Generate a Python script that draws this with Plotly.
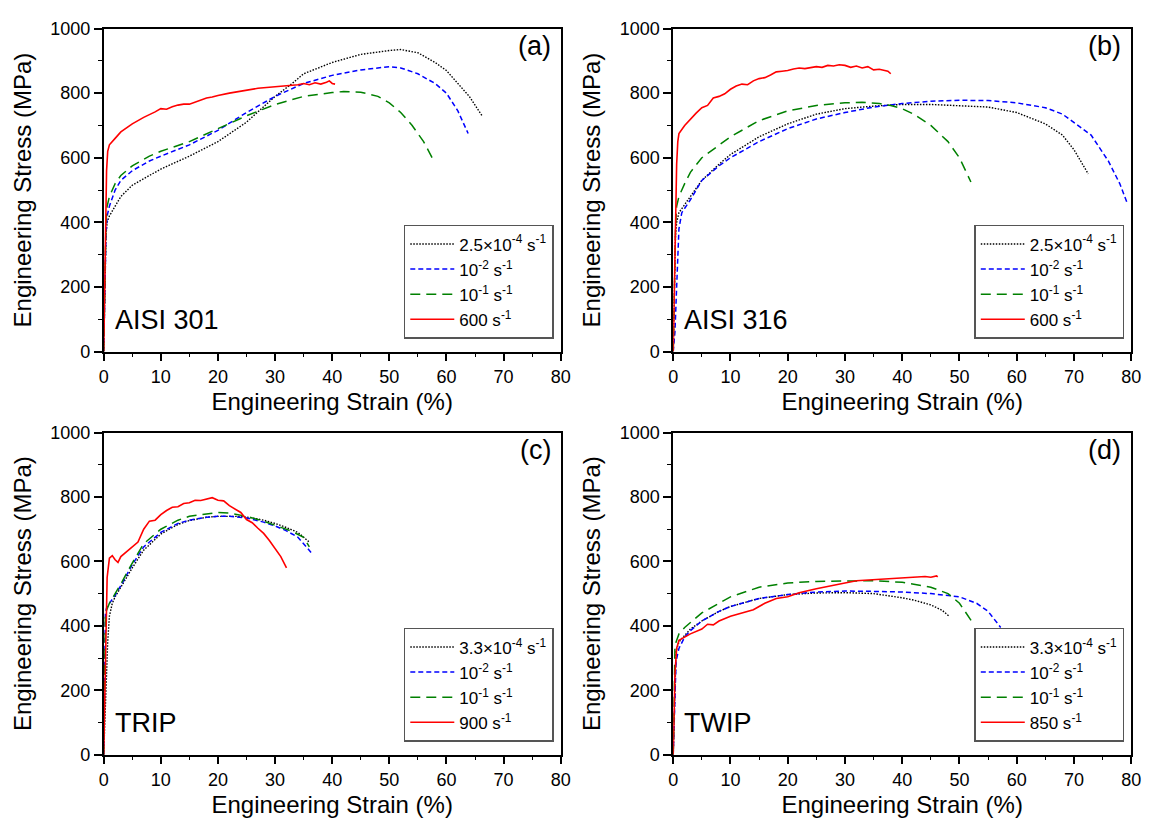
import plotly.graph_objects as go

# ---------------- DATA ----------------
# (a) AISI 301
a_slow_x = [0, 0.2, 0.4, 0.6, 1, 2, 3, 5, 8, 10, 15, 20, 25, 30, 33, 35, 40, 45, 50, 52, 55, 58, 60, 62, 64, 66.3]
a_slow_y = [0, 200, 360, 400, 420, 450, 480, 515, 545, 565, 605, 650, 710, 790, 830, 860, 895, 920, 932, 935, 925, 895, 870, 830, 790, 728]
a_mid_x = [0, 0.2, 0.4, 0.6, 1, 2, 3, 5, 8, 10, 15, 20, 25, 30, 35, 40, 45, 50, 52, 55, 58, 60, 62, 63.8]
a_mid_y = [0, 200, 360, 420, 450, 500, 530, 560, 590, 605, 640, 685, 740, 790, 830, 855, 872, 882, 878, 860, 830, 800, 745, 675]
a_fast_x = [0, 0.2, 0.4, 0.6, 1, 2, 3, 5, 8, 10, 15, 20, 25, 30, 35, 40, 42, 45, 48, 50, 52, 54, 56, 57.8]
a_fast_y = [0, 220, 400, 450, 480, 520, 545, 575, 605, 620, 650, 690, 730, 765, 790, 802, 805, 803, 790, 770, 740, 700, 650, 590]
a_dyn_x = [0, 0.15, 0.3, 0.5, 0.7, 1, 2, 3, 5, 7, 9, 10, 11, 12, 13, 14, 15, 16, 17, 18, 19, 20, 22, 25, 27, 30, 32, 34, 35, 36, 37, 38, 39, 39.5, 40, 40.5]
a_dyn_y = [0, 150, 350, 560, 620, 640, 660, 680, 705, 725, 742, 752, 750, 758, 763, 766, 766, 772, 778, 785, 788, 793, 800, 808, 815, 820, 822, 826, 830, 826, 832, 828, 834, 838, 830, 828]

# (b) AISI 316
b_slow_x = [0, 0.2, 0.4, 0.6, 1, 2, 3, 5, 8, 10, 15, 20, 25, 30, 35, 40, 45, 50, 55, 60, 65, 68, 70, 72.5]
b_slow_y = [0, 180, 360, 400, 430, 455, 480, 530, 580, 610, 665, 705, 735, 752, 760, 765, 765, 762, 757, 740, 705, 670, 625, 550]
b_mid_x = [0, 0.3, 0.6, 1, 1.5, 3, 5, 8, 10, 15, 20, 25, 30, 35, 40, 45, 50, 55, 60, 65, 68, 70, 73, 76, 78, 79.3]
b_mid_y = [0, 60, 200, 380, 430, 470, 530, 575, 600, 650, 690, 720, 740, 757, 768, 775, 778, 777, 770, 755, 735, 710, 670, 590, 520, 460]
b_fast_x = [0, 0.2, 0.4, 0.6, 1, 2, 3, 5, 8, 10, 15, 20, 25, 30, 33, 36, 38, 40, 42, 45, 48, 50, 52]
b_fast_y = [0, 200, 380, 450, 480, 520, 555, 600, 640, 665, 715, 745, 762, 770, 772, 768, 762, 752, 735, 700, 650, 600, 525]
b_dyn_x = [0, 0.2, 0.4, 0.6, 0.8, 1, 2, 3, 4, 5, 6, 7, 8, 9, 10, 11, 12, 13, 14, 15, 16, 17, 18, 19, 20, 21, 22, 23, 24, 25, 26, 27, 28, 29, 30, 31, 32, 33, 34, 35, 36, 37, 37.5, 38]
b_dyn_y = [0, 200, 420, 580, 650, 675, 700, 720, 738, 755, 762, 785, 790, 798, 812, 822, 828, 826, 838, 845, 848, 856, 866, 868, 870, 875, 878, 876, 880, 882, 880, 886, 884, 888, 886, 880, 884, 878, 882, 872, 874, 870, 868, 860]

# (c) TRIP
c_slow_x = [0, 0.3, 0.7, 1, 1.5, 2, 3, 5, 7, 10, 13, 15, 18, 20, 23, 25, 28, 30, 32, 34, 36]
c_slow_y = [0, 150, 350, 430, 470, 490, 520, 580, 635, 685, 715, 727, 737, 740, 740, 738, 728, 718, 705, 690, 660]
c_mid_x = [0, 0.15, 0.3, 0.5, 1, 2, 3, 5, 7, 10, 13, 15, 18, 20, 22, 25, 28, 30, 32, 34, 36.3]
c_mid_y = [0, 250, 440, 455, 470, 495, 525, 590, 645, 690, 718, 728, 737, 740, 740, 735, 722, 710, 695, 675, 628]
c_fast_x = [0, 0.15, 0.3, 1, 2, 3, 5, 7, 10, 13, 15, 18, 20, 22, 25, 28, 30, 33, 35, 36]
c_fast_y = [0, 250, 440, 470, 500, 530, 595, 655, 700, 728, 740, 748, 752, 750, 740, 725, 713, 693, 675, 645]
c_dyn_x = [0, 0.3, 0.6, 1, 1.5, 2, 2.5, 3, 4, 5, 6, 7, 8, 9, 10, 11, 12, 13, 14, 15, 16, 17, 18, 19, 20, 21, 22, 23, 24, 25, 26, 27, 28, 29, 30, 31, 32]
c_dyn_y = [0, 300, 550, 610, 618, 605, 597, 615, 630, 643, 660, 700, 725, 728, 745, 758, 768, 770, 780, 782, 790, 789, 793, 798, 790, 788, 773, 762, 752, 730, 720, 703, 687, 665, 640, 615, 580]

# (d) TWIP
d_slow_x = [0, 0.3, 0.5, 1, 2, 3, 5, 8, 10, 13, 15, 18, 20, 25, 30, 35, 38, 40, 42, 45, 47, 48.3]
d_slow_y = [0, 250, 320, 350, 370, 390, 415, 445, 460, 475, 485, 492, 497, 502, 503, 500, 493, 487, 480, 465, 448, 428]
d_mid_x = [0, 0.2, 0.5, 1, 2, 3, 5, 8, 10, 15, 20, 25, 30, 35, 40, 45, 50, 53, 55, 57.2]
d_mid_y = [0, 150, 290, 330, 365, 385, 415, 445, 460, 485, 497, 505, 508, 507, 505, 500, 490, 470, 445, 395]
d_fast_x = [0, 0.3, 0.5, 1, 2, 3, 5, 8, 10, 15, 20, 25, 30, 35, 40, 45, 48, 50, 52.3]
d_fast_y = [0, 330, 350, 375, 395, 410, 440, 470, 490, 520, 533, 538, 540, 540, 535, 520, 500, 470, 410]
d_dyn_x = [0, 0.3, 0.6, 1, 2, 3, 5, 6, 7, 8, 10, 12, 14, 16, 18, 20, 22, 25, 28, 30, 32, 35, 38, 40, 42, 44, 45, 46, 46.2]
d_dyn_y = [0, 250, 330, 355, 365, 375, 390, 405, 403, 415, 430, 440, 450, 470, 485, 490, 503, 515, 527, 533, 540, 543, 547, 550, 550, 553, 551, 555, 552]

x_ticks = [0, 10, 20, 30, 40, 50, 60, 70, 80]
y_ticks = [0, 200, 400, 600, 800, 1000]

panels = [
    dict(letter="(a)", material="AISI 301",
         names=["2.5×10<sup>-4</sup> s<sup>-1</sup>", "10<sup>-2</sup> s<sup>-1</sup>", "10<sup>-1</sup> s<sup>-1</sup>", "600 s<sup>-1</sup>"],
         series=[(a_slow_x, a_slow_y), (a_mid_x, a_mid_y), (a_fast_x, a_fast_y), (a_dyn_x, a_dyn_y)]),
    dict(letter="(b)", material="AISI 316",
         names=["2.5×10<sup>-4</sup> s<sup>-1</sup>", "10<sup>-2</sup> s<sup>-1</sup>", "10<sup>-1</sup> s<sup>-1</sup>", "600 s<sup>-1</sup>"],
         series=[(b_slow_x, b_slow_y), (b_mid_x, b_mid_y), (b_fast_x, b_fast_y), (b_dyn_x, b_dyn_y)]),
    dict(letter="(c)", material="TRIP",
         names=["3.3×10<sup>-4</sup> s<sup>-1</sup>", "10<sup>-2</sup> s<sup>-1</sup>", "10<sup>-1</sup> s<sup>-1</sup>", "900 s<sup>-1</sup>"],
         series=[(c_slow_x, c_slow_y), (c_mid_x, c_mid_y), (c_fast_x, c_fast_y), (c_dyn_x, c_dyn_y)]),
    dict(letter="(d)", material="TWIP",
         names=["3.3×10<sup>-4</sup> s<sup>-1</sup>", "10<sup>-2</sup> s<sup>-1</sup>", "10<sup>-1</sup> s<sup>-1</sup>", "850 s<sup>-1</sup>"],
         series=[(d_slow_x, d_slow_y), (d_mid_x, d_mid_y), (d_fast_x, d_fast_y), (d_dyn_x, d_dyn_y)]),
]

styles = [
    dict(color="#000000", dash="1.5px,1.5px", width=1.4),
    dict(color="#0000FF", dash="5px,3px", width=1.5),
    dict(color="#008000", dash="10px,6px", width=1.5),
    dict(color="#FF0000", dash="solid", width=1.6),
]

W, H = 1156, 832
# pixel boxes of the plot areas: (left, right, top, bottom)
boxes = [(100, 563, 19, 350), (677, 1141, 19, 350), (100, 563, 433, 763), (677, 1141, 433, 763)]

FONT = "Arial, Liberation Sans, sans-serif"

fig = go.Figure()
layout = dict(
    width=W, height=H, margin=dict(l=0, r=0, t=0, b=0),
    paper_bgcolor="white", plot_bgcolor="white",
    font=dict(family=FONT, color="black"),
    showlegend=True,
)
annotations = []

for i, (p, box) in enumerate(zip(panels, boxes)):
    n = i + 1
    xa = "x" if n == 1 else f"x{n}"
    ya = "y" if n == 1 else f"y{n}"
    lg = "legend" if n == 1 else f"legend{n}"
    for (sx, sy), name, st in zip(p["series"], p["names"], styles):
        fig.add_trace(go.Scatter(x=sx, y=sy, mode="lines", name=name,
                                 line=st, xaxis=xa, yaxis=ya, legend=lg))
    l, r, t, b = box
    xd = [l / W, r / W]
    yd = [1 - b / H, 1 - t / H]
    axkw = dict(showline=True, linecolor="black", linewidth=1.6, mirror=True,
                ticks="outside", ticklen=8, tickwidth=1.5, tickcolor="black",
                showgrid=False, zeroline=False,
                tickfont=dict(size=18, family=FONT, color="black"))
    layout["xaxis" if n == 1 else f"xaxis{n}"] = dict(
        domain=xd, range=[0, 80], tickvals=x_ticks, anchor=ya,
        minor=dict(ticks="outside", ticklen=4, tickwidth=1.2, tickcolor="black", dtick=5, tick0=0),
        title=dict(text="Engineering Strain (%)", font=dict(size=24, family=FONT), standoff=7),
        **axkw)
    layout["yaxis" if n == 1 else f"yaxis{n}"] = dict(
        domain=yd, range=[0, 1000], tickvals=y_ticks, anchor=xa,
        minor=dict(ticks="outside", ticklen=4, tickwidth=1.2, tickcolor="black", dtick=100, tick0=0),
        title=dict(text="Engineering Stress (MPa)", font=dict(size=24, family=FONT), standoff=12),
        **axkw)
    layout[lg] = dict(
        x=(r - 7) / W, y=1 - (b - 13) / H, xanchor="right", yanchor="bottom",
        xref="paper", yref="paper",
        bordercolor="#555555", borderwidth=1.5, bgcolor="white",
        font=dict(size=17, family=FONT, color="black"),
        tracegroupgap=0, itemwidth=44,
    )
    annotations.append(dict(text=p["letter"], xref=f"{xa} domain", yref=f"{ya} domain",
                            x=0.983, y=0.945, xanchor="right", yanchor="middle",
                            showarrow=False, font=dict(size=27, family=FONT)))
    annotations.append(dict(text=p["material"], xref=f"{xa} domain", yref=f"{ya} domain",
                            x=0.02, y=0.097, xanchor="left", yanchor="middle",
                            showarrow=False, font=dict(size=27, family=FONT)))

layout["annotations"] = annotations
fig.update_layout(**layout)
fig.write_html("out.html")
